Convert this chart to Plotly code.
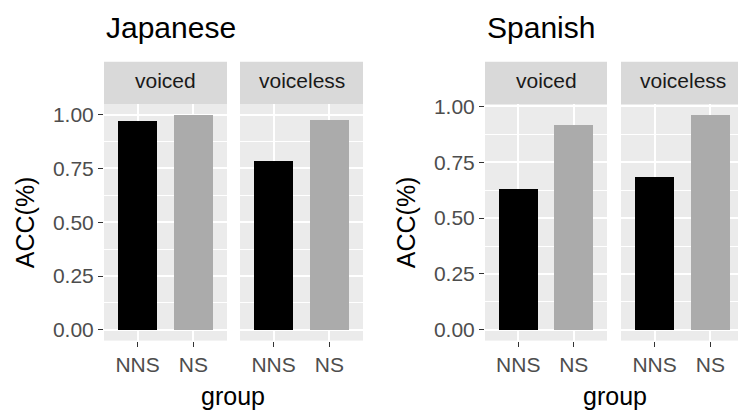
import plotly.graph_objects as go

# ---- data ----
languages = ["Japanese", "Spanish"]
voicing = ["voiced", "voiceless"]
groups = ["NNS", "NS"]
japanese_voiced = [0.97, 1.00]
japanese_voiceless = [0.785, 0.977]
spanish_voiced = [0.63, 0.917]
spanish_voiceless = [0.683, 0.963]
y_ticks = [0.0, 0.25, 0.5, 0.75, 1.0]
y_tick_labels = ["0.00", "0.25", "0.50", "0.75", "1.00"]
y_minor = [0.125, 0.375, 0.625, 0.875]

W, H = 738, 411
FONT = "Liberation Sans, Arial, sans-serif"
bar_colors = ["#000000", "#ABABAB"]

panels = [
    # (values, x px left, x px right, language index)
    (japanese_voiced, 104, 227, 0),
    (japanese_voiceless, 240, 363, 0),
    (spanish_voiced, 485, 607, 1),
    (spanish_voiceless, 621, 744, 1),
]
panel_top, panel_bot = 97, 339
strip_top = 54

lang_max = [max(japanese_voiced + japanese_voiceless), max(spanish_voiced + spanish_voiceless)]
y_ranges = [[-0.05 * m, 1.05 * m] for m in lang_max]

fig = go.Figure()
shapes = []
annotations = []
ydom = [(H - panel_bot) / H, (H - panel_top) / H]

for i, (vals, xl, xr, li) in enumerate(panels):
    n = i + 1
    sfx = "" if n == 1 else str(n)
    fig.add_trace(go.Bar(
        x=groups, y=vals, width=0.7,
        marker=dict(color=bar_colors, line=dict(width=0)),
        xaxis="x" + sfx, yaxis="y" + sfx, showlegend=False,
    ))
    unit = (xr - xl) / 2.2
    xr_vis = min(xr, W)
    xrange = [-0.6, -0.6 + (xr_vis - xl) / unit]
    dom = [xl / W, xr_vis / W]
    fig.layout["xaxis" + sfx] = dict(
        domain=dom, range=xrange, type="category", anchor="y" + sfx,
        showgrid=True, gridcolor="white", gridwidth=1.8,
        ticks="outside", ticklen=5, tickcolor="#333333", tickwidth=1,
        tickfont=dict(family=FONT, size=21, color="#4D4D4D"),
        showline=False, zeroline=False, fixedrange=True,
    )
    first = (i % 2 == 0)
    fig.layout["yaxis" + sfx] = dict(
        domain=ydom, range=y_ranges[li], anchor="x" + sfx,
        tickvals=y_ticks, ticktext=y_tick_labels if first else [""] * 5,
        showticklabels=first,
        ticks="outside" if first else "", ticklen=5, tickcolor="#333333", tickwidth=1,
        tickfont=dict(family=FONT, size=21, color="#4D4D4D"),
        showgrid=True, gridcolor="white", gridwidth=1.8,
        minor=dict(tickvals=y_minor, showgrid=True, gridcolor="white", gridwidth=0.9, ticks=""),
        zeroline=False, showline=False, fixedrange=True,
    )
    # strip
    shapes.append(dict(type="rect", xref="paper", yref="paper",
                       x0=dom[0], x1=dom[1], y0=(H - panel_top) / H, y1=(H - strip_top) / H,
                       fillcolor="#D9D9D9", line=dict(width=0), layer="below"))
    annotations.append(dict(text=voicing[i % 2], xref="paper", yref="paper",
                            x=(xl + xr) / 2 / W, y=(H - (panel_top + strip_top) / 2 + 2) / H,
                            xanchor="center", yanchor="middle", showarrow=False,
                            font=dict(family=FONT, size=21, color="#1A1A1A")))

# language titles, axis titles
for li, lang in enumerate(languages):
    xl = panels[2 * li][1]
    xr = panels[2 * li + 1][2]
    annotations.append(dict(text=lang, xref="paper", yref="paper",
                            x=(xl) / W, y=(H - 19) / H, xanchor="left", yanchor="middle",
                            showarrow=False, font=dict(family=FONT, size=30, color="#000000")))
    annotations.append(dict(text="group", xref="paper", yref="paper",
                            x=(xl + xr) / 2 / W, y=(H - 396) / H, xanchor="center", yanchor="middle",
                            showarrow=False, font=dict(family=FONT, size=25, color="#000000")))
    annotations.append(dict(text="ACC(%)", xref="paper", yref="paper", textangle=-90,
                            x=(xl - 79) / W, y=(H - (panel_top + panel_bot) / 2) / H,
                            xanchor="center", yanchor="middle",
                            showarrow=False, font=dict(family=FONT, size=25, color="#000000")))

fig.update_layout(
    width=W, height=H, margin=dict(l=0, r=0, t=0, b=0),
    paper_bgcolor="white", plot_bgcolor="#EBEBEB",
    shapes=shapes, annotations=annotations, bargap=0, showlegend=False,
)
fig.write_html("out.html", config={"displayModeBar": False})
